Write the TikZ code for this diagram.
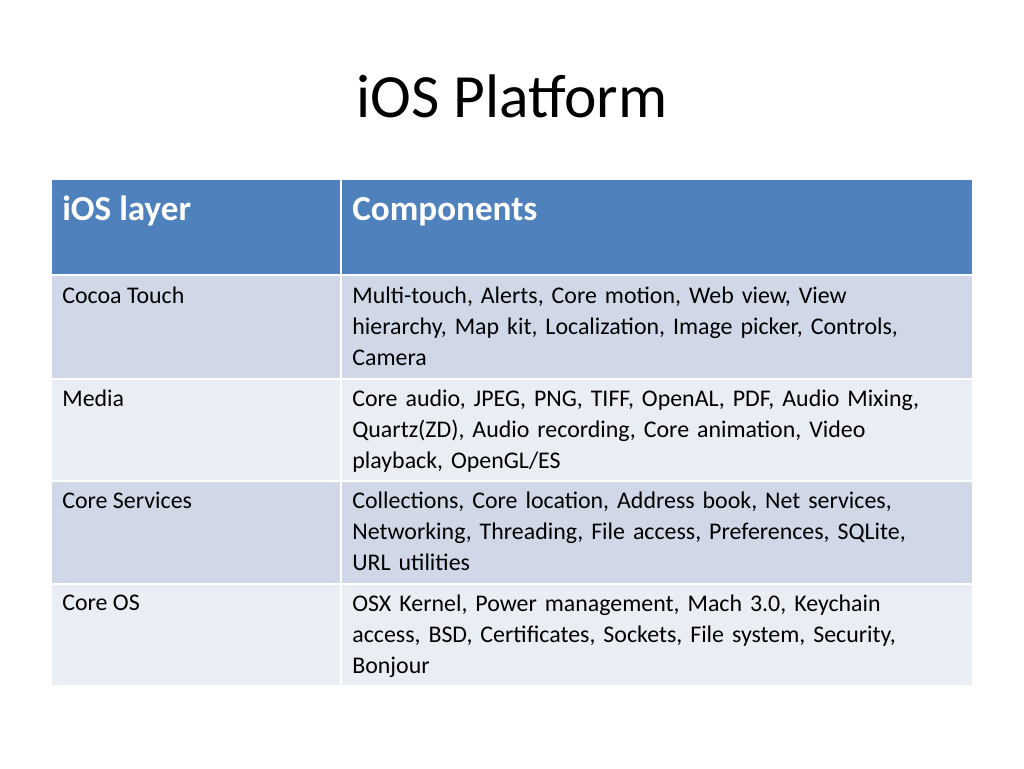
\documentclass[tikz,border=0pt]{standalone}
\usepackage{fontspec}
\setmainfont{Carlito}
\definecolor{headblue}{HTML}{4F81BD}
\definecolor{rowdark}{HTML}{D0D8E8}
\definecolor{rowlight}{HTML}{E9EDF4}
\tikzset{
  cell/.style={inner sep=0pt,anchor=north west,align=left,font=\fontsize{13.6pt}{17.6pt}\selectfont},
  headcell/.style={inner sep=0pt,anchor=base west,text=white,font=\fontsize{20pt}{24pt}\selectfont\bfseries}
}
\begin{document}
\begin{tikzpicture}[x=0.02cm,y=-0.02cm]
  \useasboundingbox[fill=white] (0,0) rectangle (1024,768);
  % Title
  \node[inner sep=0pt,anchor=base,font=\fontsize{35pt}{40pt}\selectfont] (title) at (512,117) {iOS Platform};
  % Header row
  \fill[headblue] (52,180) rectangle (340,274);
  \fill[headblue] (342,180) rectangle (972,274);
  \node[headcell] (hlayer) at (62,220) {iOS layer};
  \node[headcell] (hcomp) at (352,220) {Components};
  % Body rows
  \foreach \top/\bot/\col in {276/378/rowdark,380/480/rowlight,482/583/rowdark,585/685/rowlight} {
    \fill[\col] (52,\top) rectangle (340,\bot);
    \fill[\col] (342,\top) rectangle (972,\bot);
  }
  \node[cell] (layer1) at (62,287) {Cocoa Touch};
  \node[cell,text width=11.9cm] (comp1) at (352,287) {Multi-touch, Alerts, Core motion, Web view, View\\hierarchy, Map kit, Localization, Image picker, Controls,\\Camera};
  \node[cell] (layer2) at (62,390) {Media};
  \node[cell,text width=11.9cm] (comp2) at (352,390) {Core audio, JPEG, PNG, TIFF, OpenAL, PDF, Audio Mixing,\\Quartz(ZD), Audio recording, Core animation, Video\\playback, OpenGL/ES};
  \node[cell] (layer3) at (62,492) {Core Services};
  \node[cell,text width=11.9cm] (comp3) at (352,492) {Collections, Core location, Address book, Net services,\\Networking, Threading, File access, Preferences, SQLite,\\URL utilities};
  \node[cell] (layer4) at (62,595) {Core OS};
  \node[cell,text width=11.9cm] (comp4) at (352,595) {OSX Kernel, Power management, Mach 3.0, Keychain\\access, BSD, Certificates, Sockets, File system, Security,\\Bonjour};
\end{tikzpicture}
\end{document}
